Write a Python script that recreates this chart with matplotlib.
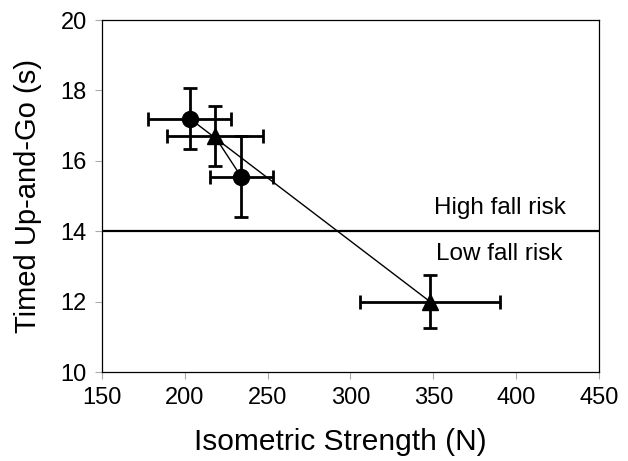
import matplotlib
matplotlib.use("Agg")
import matplotlib.pyplot as plt

plt.rcParams['font.family'] = ['Liberation Sans', 'DejaVu Sans']

# circles (baseline) and triangles (follow-up)
circle_x = [203, 234]
circle_y = [17.2, 15.55]
circle_xerr = [25, 19]
circle_yerr = [0.87, 1.15]

tri_x = [348, 218]
tri_y = [12.0, 16.7]
tri_xerr = [42, 29]
tri_yerr = [0.76, 0.85]

risk_cutoff = 14

fig = plt.figure(figsize=(6.28, 4.61), dpi=100)
ax = fig.add_axes([0.1624, 0.193, 0.7914, 0.7636])

# connect each pair
for i in range(len(circle_x)):
    ax.plot([circle_x[i], tri_x[i]], [circle_y[i], tri_y[i]], color='black', lw=1, zorder=2)

ax.errorbar(circle_x, circle_y, xerr=circle_xerr, yerr=circle_yerr, fmt='o', color='black',
            ms=11.5, elinewidth=2, capsize=5, capthick=2, zorder=3)
ax.errorbar(tri_x, tri_y, xerr=tri_xerr, yerr=tri_yerr, fmt='^', color='black',
            ms=11.5, elinewidth=2, capsize=5, capthick=2, zorder=3)

ax.axhline(risk_cutoff, color='black', lw=1.6, zorder=1)
ax.text(390, 14.65, 'High fall risk', ha='center', va='center', fontsize=17.5)
ax.text(390, 13.35, 'Low fall risk', ha='center', va='center', fontsize=17.5)

ax.set_xlim(150, 450)
ax.set_ylim(10, 20)
ax.set_xticks(range(150, 451, 50))
ax.set_yticks(range(10, 21, 2))
ax.tick_params(direction='out', length=5, width=0.8, color='#aaaaaa', labelsize=17, pad=6)
for s in ax.spines.values():
    s.set_linewidth(0.9)

ax.set_xlabel('Isometric Strength (N)', fontsize=21.5)
ax.set_ylabel('Timed Up-and-Go (s)', fontsize=21)
ax.xaxis.set_label_coords(0.48, -0.16)
ax.yaxis.set_label_coords(-0.12, 0.5)

fig.savefig('out.png', dpi=100)
